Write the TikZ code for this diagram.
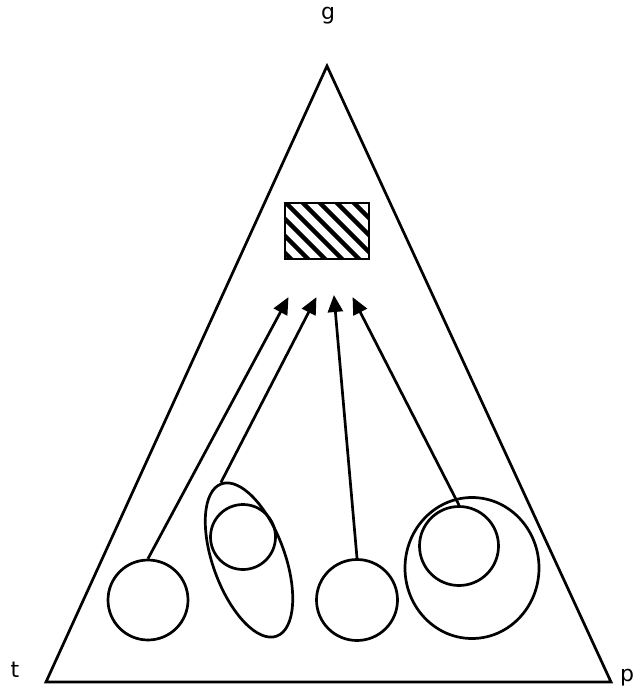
\documentclass[tikz,border=0pt]{standalone}
\usepackage{fontspec}
\newfontfamily\lblfont{DejaVu Sans}
\usetikzlibrary{shapes.geometric,arrows.meta}
\begin{document}
\begin{tikzpicture}[x=1pt,y=-1pt,
  line width=2.7pt,
  blob/.style={circle,draw,inner sep=0pt,minimum size=#1},
  lbl/.style={font=\lblfont\fontsize{22}{26}\selectfont,anchor=base,inner sep=0pt},
  arr/.style={-{Triangle[length=17pt,width=15pt]},line width=2.7pt,shorten >=-1pt}]
\useasboundingbox (0,0) rectangle (642,687);
% triangle
\coordinate (top) at (327,66);
\coordinate (bl) at (46,682);
\coordinate (br) at (611,682);
\draw[line join=miter] (top) -- (bl) -- (br) -- cycle;
% labels
\node[lbl] (lg) at (328,20) {g};
\node[lbl] (lt) at (15,677) {t};
\node[lbl] (lp) at (627,681) {p};
% hatched rectangle
\begin{scope}
\clip (285,203) rectangle (369,259);
\foreach \i in {-80,-63,...,120} {
  \draw[line width=4.5pt] (285+\i,190) -- (285+\i+90,280);
}
\end{scope}
\node[draw,line width=2.8pt,minimum width=84pt,minimum height=56pt,inner sep=0pt] (box) at (327,231) {};
% shapes
\node[blob=80pt] (c1) at (148,600) {};
\node[ellipse,draw,inner sep=0pt,minimum width=72pt,minimum height=162pt,rotate=20] (el) at (249,560) {};
\node[blob=65pt] (c2) at (243,537) {};
\node[blob=81pt] (c3) at (357,600) {};
\node[ellipse,draw,inner sep=0pt,minimum width=134pt,minimum height=141pt] (c4) at (472,568) {};
\node[blob=79pt] (c5) at (459,546) {};
% arrow tips
\coordinate (t1) at (288,298);
\coordinate (t2) at (316,298);
\coordinate (t3) at (334,296);
\coordinate (t4) at (353,298);
\draw[arr] (c1.north) -- (t1);
\draw[arr] (el.north) -- (t2);
\draw[arr] (c3.north) -- (t3);
\draw[arr] (c5.north) -- (t4);
\end{tikzpicture}
\end{document}
